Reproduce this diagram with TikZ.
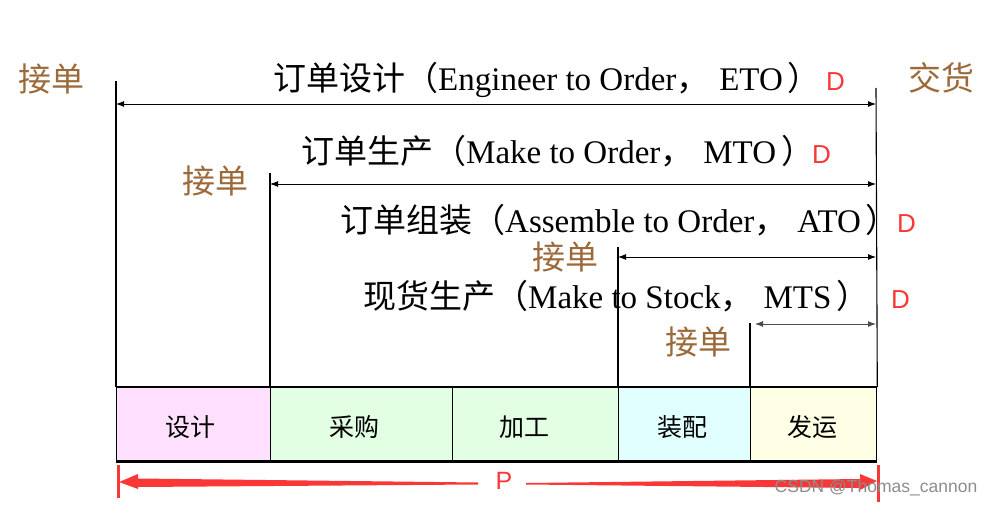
\documentclass[tikz,border=0pt]{standalone}
\usepackage{fontspec}
\setmainfont{Liberation Serif}
\newfontfamily\cjk{Noto Sans CJK SC}
\newfontfamily\dsans{Liberation Sans}
\usetikzlibrary{arrows.meta}
\definecolor{brownc}{RGB}{156,106,58}
\definecolor{redc}{RGB}{250,55,55}
\definecolor{pinkc}{RGB}{255,225,255}
\definecolor{greenc}{RGB}{227,255,227}
\definecolor{cyanc}{RGB}{225,255,255}
\definecolor{yellowc}{RGB}{255,255,229}
\newcommand{\lp}{{\cjk （}}
\newcommand{\cm}{{\cjk ，}\hspace{0.3em}}
\newcommand{\rp}{\hspace{0.15em}\makebox[0.45em][l]{\cjk ）}}
\tikzset{
  title/.style={anchor=base west, inner sep=0pt, font=\fontsize{33}{35}\selectfont},
  dmark/.style={anchor=base west, inner sep=0pt, text=redc, font=\dsans\fontsize{26}{28}\selectfont},
  evt/.style={anchor=base, inner sep=0pt, text=brownc, font=\cjk\fontsize{33}{35}\selectfont},
  cell/.style={draw, line width=1.3pt, minimum height=73pt, inner sep=0pt, anchor=north west},
  celltxt/.style={inner sep=0pt, font=\cjk\fontsize{25}{27}\selectfont},
  vline/.style={line width=1.1pt},
  span/.style={line width=0.9pt, {Latex[length=8pt,width=6pt]}-{Latex[length=8pt,width=6pt]}},
  redbar/.style={draw=redc, line width=3pt},
}
\begin{document}
\begin{tikzpicture}[x=1pt,y=-1pt]
\useasboundingbox (0,0) rectangle (994,506);

% table cells
\node[cell, fill=pinkc, minimum width=154pt] (c1) at (116,387) {};
\node[cell, fill=greenc, minimum width=182pt] (c2) at (270,387) {};
\node[cell, fill=greenc, minimum width=166pt] (c3) at (452,387) {};
\node[cell, fill=cyanc, minimum width=132pt] (c4) at (618,387) {};
\node[cell, fill=yellowc, minimum width=126pt] (c5) at (750,387) {};
\draw[line width=2.6pt] (c1.north west) -- (c5.north east);
\draw[line width=2.6pt] (c1.south west) -- (c5.south east);
\node[celltxt] (t1) at (190,427) {设计};
\node[celltxt] (t2) at (354,427) {采购};
\node[celltxt] (t3) at (524,427) {加工};
\node[celltxt] (t4) at (682,427) {装配};
\node[celltxt] (t5) at (812,427) {发运};

% vertical lines
\coordinate (v1) at (116,81);
\coordinate (v2) at (270,173);
\coordinate (v3) at (618,247);
\coordinate (v4) at (750,323);
\coordinate (v5) at (876,88);
\draw[vline] (v1) -- (c1.north west);
\draw[vline] (v2) -- (c2.north west);
\draw[vline] (v3) -- (c4.north west);
\draw[vline] (v4) -- (c5.north west);
\draw[vline] (v5) -- (c5.north east);

% span arrows
\coordinate (a1l) at (116,104); \coordinate (a1r) at (876,104);
\coordinate (a2l) at (270,184); \coordinate (a2r) at (876,184);
\coordinate (a3l) at (618,257); \coordinate (a3r) at (876,257);
\coordinate (a4l) at (755,324); \coordinate (a4r) at (876,324);
\draw[span] (a1l) -- (a1r);
\draw[span] (a2l) -- (a2r);
\draw[span] (a3l) -- (a3r);
\draw[span, draw=black!70] (a4l) -- (a4r);

% titles
\node[title] (eto) at (273,90) {{\cjk 订单设计}\lp Engineer to Order\cm ETO\rp};
\node[dmark] (d1) at (826,90) {D};
\node[title] (mto) at (301,163) {{\cjk 订单生产}\lp Make to Order\cm MTO\rp};
\node[dmark] (d2) at (812,163) {D};
\node[title] (ato) at (340,232) {{\cjk 订单组装}\lp Assemble to Order\cm ATO\rp};
\node[dmark] (d3) at (897,232) {D};
\node[title] (mts) at (363,308) {{\cjk 现货生产}\lp Make to Stock\cm MTS\rp};
\node[dmark] (d4) at (891,308) {D};

% event labels
\node[evt] (e1) at (52,91) {接单};
\node[evt] (e2) at (215,193) {接单};
\node[evt] (e3) at (565,269) {接单};
\node[evt] (e4) at (698,354) {接单};
\node[evt] (e5) at (941,90) {交货};

% P span
\coordinate (pb1t) at (118,465); \coordinate (pb1b) at (118,498);
\coordinate (pb2t) at (878,465); \coordinate (pb2b) at (878,502);
\draw[redbar] (pb1t) -- (pb1b);
\draw[redbar] (pb2t) -- (pb2b);
\node[inner sep=0pt, text=redc, font=\dsans\fontsize{25}{27}\selectfont] (P) at (504,481) {P};
\fill[redc] (478,482.5) -- (138,478.5) -- (138,474) -- (119,482) -- (138,489) -- (138,487) -- (478,484.5) -- cycle;
\fill[redc] (526,484.5) -- (860,488) -- (860,490) -- (877,481) -- (860,474) -- (860,479) -- (526,483) -- cycle;

% watermark
\node[inner sep=0pt, text=black!45, font=\dsans\fontsize{17.5}{19}\selectfont] (wm) at (876,488) {CSDN @Thomas\_cannon};
\end{tikzpicture}
\end{document}
